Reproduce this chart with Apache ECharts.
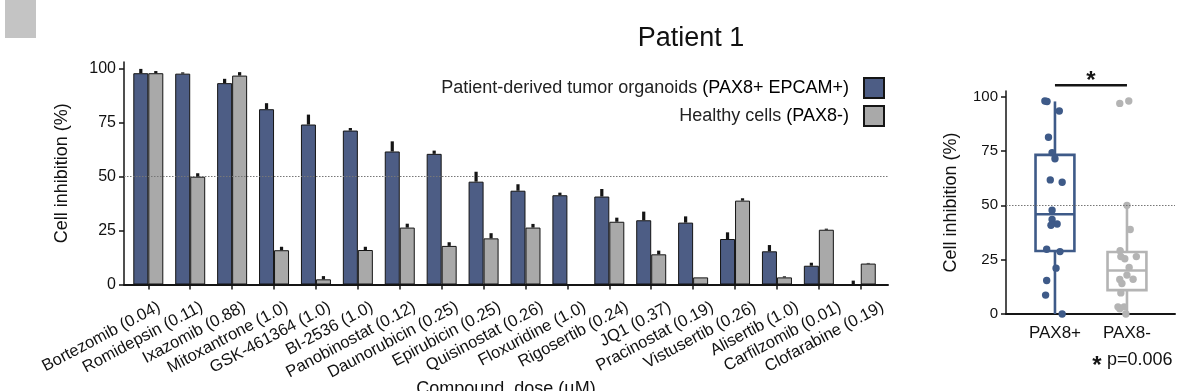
<!DOCTYPE html>
<html><head><meta charset="utf-8">
<script src="https://cdn.jsdelivr.net/npm/echarts@6/dist/echarts.min.js"></script>
<style>html,body{margin:0;padding:0;background:#fff}#c{width:1177px;height:391px}</style>
</head><body><div id="c"></div>
<script>
// ---------- data ----------
const compounds = ['Bortezomib (0.04)','Romidepsin (0.11)','Ixazomib (0.88)','Mitoxantrone (1.0)','GSK-461364 (1.0)','BI-2536 (1.0)','Panobinostat (0.12)','Daunorubicin (0.25)','Epirubicin (0.25)','Quisinostat (0.26)','Floxuridine (1.0)','Rigosertib (0.24)','JQ1 (0.37)','Pracinostat (0.19)','Vistusertib (0.26)','Alisertib (1.0)','Carfilzomib (0.01)','Clofarabine (0.19)'];
const tumorValues   = [98, 97.8, 93.4, 81.3, 74.2, 71.4, 61.7, 60.6, 47.7, 43.5, 41.4, 40.8, 29.8, 28.7, 21.1, 15.4, 8.7, 0];
const tumorErrors   = [2, 0.6, 2, 2.8, 4.6, 1.2, 4.7, 1.5, 4.6, 3, 1.2, 3.5, 4, 2.9, 3.1, 2.9, 1.4, 1.8];
const healthyValues = [98, 50, 96.9, 15.9, 2.4, 16, 26.4, 17.9, 21.4, 26.4, 0, 29.1, 14, 3.3, 38.9, 3.3, 25.4, 9.7];
const healthyErrors = [1, 1.6, 1.6, 1.6, 1.5, 1.5, 1.8, 1.7, 2.4, 1.7, 0, 1.9, 1.7, 0, 1.1, 0.5, 0.5, 0.3];
const seriesNames = ['Patient-derived tumor organoids (PAX8+ EPCAM+)', 'Healthy cells (PAX8-)'];
const yTicks = [0, 25, 50, 75, 100];
const groups = ['PAX8+', 'PAX8-'];
// box stats: [min, q1, median, q3, max]
const boxPlus  = [0, 29, 45.9, 73.2, 97.8];
const boxMinus = [0, 11, 20, 28.5, 50.2];
// horizontal jitter of the dots (fraction of group spacing)
const jitterPlus  = [-0.14,-0.11,0.06,-0.09,-0.04,0,-0.065,0.1,-0.04,-0.04,0.03,-0.055,-0.115,0.07,0.015,-0.115,-0.13,0.1];
const jitterMinus = [0.025,0,-0.1,-0.1,-0.1,0.085,-0.085,0,0.03,0.13,-0.015,-0.095,-0.07,-0.125,0.045,-0.04,-0.03,-0.085];
const threshold = 50;
const pText = 'p=0.006';

// ---------- styles ----------
const FONT = '"Liberation Sans", Arial, Helvetica, sans-serif';
const BLUE = '#4d5d85', GRAY = '#a9a9a9', INK = '#151515';
const BOX_BLUE = '#3e5a88', BOX_GRAY = '#b4b4b4';
const BAR_W = 15;

const chart = echarts.init(document.getElementById('c'), null, {renderer: 'canvas'});

const compIdx = compounds.map((c, i) => i);
const groupIdx = groups.map((g, i) => i);

const errData = [];
tumorValues.forEach((v, i) => errData.push([i, v, tumorErrors[i], 0]));
healthyValues.forEach((v, i) => errData.push([i, v, healthyErrors[i], 1]));

const dotData = [];
tumorValues.forEach((v, i) => dotData.push([0, v, jitterPlus[i]]));
healthyValues.forEach((v, i) => dotData.push([1, v, jitterMinus[i]]));

const boxData = [[0].concat(boxPlus), [1].concat(boxMinus)];

const dotted = {
  silent: true, symbol: 'none', label: {show: false},
  lineStyle: {type: [1.5, 1.5], color: '#777', width: 1},
  data: [{yAxis: threshold}]
};

const yAxisCommon = {
  type: 'value', min: 0, interval: 25,
  axisLine: {show: true, onZero: false, lineStyle: {color: INK, width: 1.5}},
  axisTick: {show: true, customValues: yTicks, length: 5, lineStyle: {color: INK, width: 1.5}},
  splitLine: {show: false},
  name: 'Cell inhibition (%)', nameLocation: 'middle',
  nameTextStyle: {fontSize: 18, color: '#111', fontFamily: FONT}
};

const option = {
  animation: false,
  textStyle: {fontFamily: FONT},
  title: {
    text: 'Patient 1', left: 691, top: 25, textAlign: 'center', padding: 0,
    textStyle: {fontSize: 27, fontWeight: 'normal', color: '#111', fontFamily: FONT}
  },
  legend: {
    orient: 'vertical', right: 292, top: 77, align: 'right',
    itemWidth: 20, itemHeight: 20, itemGap: 6, padding: 0,
    icon: 'rect',
    data: seriesNames,
    formatter: function (name) {
      const m = name.match(/^(.*?)(\(.*\))$/);
      return m ? m[1] + '{b|' + m[2] + '}' : name;
    },
    textStyle: {
      fontSize: 18, color: '#222', fontFamily: FONT, padding: [0, 10, 0, 0],
      rich: {b: {fontSize: 18, color: '#000', fontFamily: FONT}}
    }
  },
  grid: [
    {left: 124, right: 289, top: 62, bottom: 106.5, containLabel: false, outerBoundsMode: 'none'},
    {left: 1006, right: 2, top: 91, bottom: 77, containLabel: false, outerBoundsMode: 'none'}
  ],
  xAxis: [
    {
      type: 'value', gridIndex: 0, min: -0.58, max: 17.65,
      splitLine: {show: false},
      axisLine: {show: true, onZero: false, lineStyle: {color: INK, width: 2}},
      axisTick: {show: true, customValues: compIdx, length: 5, lineStyle: {color: INK, width: 1.5}},
      axisLabel: {show: false},
      name: 'Compound, dose (µM)', nameLocation: 'middle', nameGap: 96,
      nameTextStyle: {fontSize: 18, color: '#111', fontFamily: FONT}
    },
    {
      type: 'value', gridIndex: 1, min: -0.68, max: 1.667,
      splitLine: {show: false},
      axisLine: {show: true, onZero: false, lineStyle: {color: INK, width: 2}},
      axisTick: {show: false},
      axisLabel: {customValues: groupIdx, formatter: v => groups[Math.round(v)],
        fontSize: 17, color: '#111', margin: 11, fontFamily: FONT}
    },
    {
      // label track for the compound names (slightly wider spacing than ticks, as in the figure)
      type: 'value', gridIndex: 0, position: 'bottom', min: -0.735, max: 17.22,
      splitLine: {show: false},
      axisLine: {show: false, onZero: false}, axisTick: {show: false},
      axisLabel: {customValues: compIdx, formatter: v => compounds[Math.round(v)],
        rotate: 28, align: 'right', verticalAlign: 'top',
        fontSize: 16.5, color: '#111', margin: 14, fontFamily: FONT}
    }
  ],
  yAxis: [
    Object.assign({}, yAxisCommon, {
      gridIndex: 0, max: 103.2, nameGap: 53,
      axisLabel: {customValues: yTicks, fontSize: 16, color: '#111', margin: 8, fontFamily: FONT}
    }),
    Object.assign({}, yAxisCommon, {
      gridIndex: 1, max: 102.6, nameGap: 46,
      axisLabel: {customValues: yTicks, fontSize: 15, color: '#111', margin: 8, fontFamily: FONT}
    })
  ],
  series: [
    {
      name: seriesNames[0], type: 'bar', xAxisIndex: 0, yAxisIndex: 0,
      data: tumorValues.map((v, i) => [i, v]), barWidth: BAR_W, barGap: '0%',
      itemStyle: {color: BLUE, borderColor: INK, borderWidth: 1},
      markLine: dotted, z: 2
    },
    {
      name: seriesNames[1], type: 'bar', xAxisIndex: 0, yAxisIndex: 0,
      data: healthyValues.map((v, i) => [i, v]), barWidth: BAR_W, barGap: '0%',
      itemStyle: {color: GRAY, borderColor: INK, borderWidth: 1}, z: 2
    },
    {
      type: 'custom', xAxisIndex: 0, yAxisIndex: 0, data: errData, z: 5,
      renderItem: function (params, api) {
        const i = api.value(0), v = api.value(1), e = api.value(2), s = api.value(3);
        if (e <= 0) return null;
        const p0 = api.coord([i, v]);
        const p1 = api.coord([i, v + e]);
        const off = s === 0 ? -BAR_W / 2 : BAR_W / 2;
        return {
          type: 'rect',
          shape: {x: p0[0] + off - 1.6, y: p1[1], width: 3.2, height: p0[1] - p1[1]},
          style: {fill: INK}
        };
      }
    },
    {
      type: 'custom', xAxisIndex: 1, yAxisIndex: 1, data: boxData, z: 3,
      markLine: dotted,
      renderItem: function (params, api) {
        const i = api.value(0);
        const col = i === 0 ? BOX_BLUE : BOX_GRAY;
        const band = api.size([1, 0])[0];
        const hw = band * 0.27;
        const pMin = api.coord([i, api.value(1)]);
        const pQ1 = api.coord([i, api.value(2)]);
        const pMed = api.coord([i, api.value(3)]);
        const pQ3 = api.coord([i, api.value(4)]);
        const pMax = api.coord([i, api.value(5)]);
        const x = pMin[0];
        const ls = {stroke: col, lineWidth: 2.6, fill: null};
        return {
          type: 'group',
          children: [
            {type: 'line', shape: {x1: x, y1: pMin[1], x2: x, y2: pQ1[1]}, style: ls},
            {type: 'line', shape: {x1: x, y1: pQ3[1], x2: x, y2: pMax[1]}, style: ls},
            {type: 'rect', shape: {x: x - hw, y: pQ3[1], width: 2 * hw, height: pQ1[1] - pQ3[1]}, style: ls},
            {type: 'line', shape: {x1: x - hw, y1: pMed[1], x2: x + hw, y2: pMed[1]}, style: ls}
          ]
        };
      }
    },
    {
      type: 'custom', xAxisIndex: 1, yAxisIndex: 1, data: dotData, z: 4,
      renderItem: function (params, api) {
        const i = api.value(0);
        const band = api.size([1, 0])[0];
        const p = api.coord([i, api.value(1)]);
        return {
          type: 'circle',
          shape: {cx: p[0] + api.value(2) * band, cy: p[1], r: 3.7},
          style: {fill: i === 0 ? BOX_BLUE : BOX_GRAY}
        };
      }
    }
  ]
};
chart.setOption(option);

// annotations: significance bracket, p-value, corner swatch
const xg0 = chart.convertToPixel({xAxisIndex: 1}, 0);
const xg1 = chart.convertToPixel({xAxisIndex: 1}, 1);
const yBracket = chart.convertToPixel({yAxisIndex: 1}, 105.2);
chart.setOption({
  graphic: [
    {type: 'rect', shape: {x: 5, y: 0, width: 31, height: 38}, style: {fill: '#c4c4c4'}},
    {type: 'line', shape: {x1: xg0, y1: yBracket, x2: xg1, y2: yBracket}, style: {stroke: INK, lineWidth: 2.5}},
    {type: 'text', x: (xg0 + xg1) / 2, y: yBracket - 4, style: {text: '*', font: 'bold 24px ' + FONT, fill: INK, align: 'center', verticalAlign: 'middle'}},
    {type: 'text', x: 1097, y: 366, style: {text: '*', font: 'bold 24px ' + FONT, fill: INK, align: 'center', verticalAlign: 'middle'}},
    {type: 'text', x: 1107, y: 360, style: {text: pText, font: '18px ' + FONT, fill: '#111', align: 'left', verticalAlign: 'middle'}}
  ]
});
</script></body></html>
